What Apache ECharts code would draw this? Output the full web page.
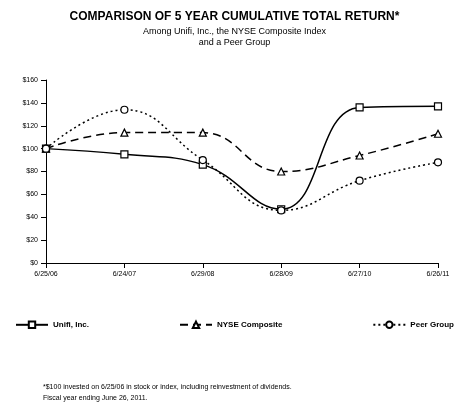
<!DOCTYPE html><html><head><meta charset="utf-8"><script src="https://cdn.jsdelivr.net/npm/echarts@6/dist/echarts.min.js"></script>
<style>body{margin:0;background:#fff}#c{width:469px;height:405px}</style></head><body><div id="c"></div><script>
const categories=['6/25/06','6/24/07','6/29/08','6/28/09','6/27/10','6/26/11'];
const unifi=[100,95,86,47,136,137];
const nyse=[100,114,114,80,94,113];
const peer=[100,134,90,46,72,88];
const yTicks=[0,20,40,60,80,100,120,140,160];
const ch=echarts.init(document.getElementById('c'));
const F='Liberation Sans, Arial, sans-serif';
function s(name,data,sym,type,w){return {name,type:'line',data,smooth:0.45,symbol:sym,symbolSize:7,itemStyle:{color:'#fff',borderColor:'#000',borderWidth:1.2},lineStyle:{color:'#000',width:w,type},emphasis:{disabled:true}};}
ch.setOption({animation:false,
title:[{text:'COMPARISON OF 5 YEAR CUMULATIVE TOTAL RETURN*',left:'center',top:6,textStyle:{fontFamily:F,fontSize:12,fontWeight:'bold',color:'#000'}},
{text:'Among Unifi, Inc., the NYSE Composite Index\nand a Peer Group',left:'center',top:21,textStyle:{fontFamily:F,fontSize:9,fontWeight:'normal',color:'#000',lineHeight:11}},
{text:'*$100 invested on 6/25/06 in stock or index, including reinvestment of dividends.\nFiscal year ending June 26, 2011.',left:38,top:377,textStyle:{fontFamily:F,fontSize:7,fontWeight:'normal',color:'#000',lineHeight:11}}],
legend:{bottom:71,left:10,right:15,itemGap:90,itemWidth:32,itemHeight:8,textStyle:{fontFamily:F,fontSize:8,fontWeight:'bold',color:'#000'},data:['Unifi, Inc.','NYSE Composite','Peer Group']},
grid:{left:46,right:31,top:80,bottom:142},
xAxis:{type:'category',boundaryGap:false,data:categories,axisLine:{lineStyle:{color:'#000'}},axisTick:{alignWithLabel:true,lineStyle:{color:'#000'}},axisLabel:{fontFamily:F,fontSize:7,color:'#000',margin:8}},
yAxis:{type:'value',min:0,max:160,interval:20,splitLine:{show:false},axisLine:{show:true,lineStyle:{color:'#000'}},axisTick:{show:true,lineStyle:{color:'#000'}},axisLabel:{fontFamily:F,fontSize:7,color:'#000',formatter:v=>yTicks.includes(v)?'$'+v:''}},
series:[s('Unifi, Inc.',unifi,'rect','solid',1.5),s('NYSE Composite',nyse,'triangle',[8,5],1.5),s('Peer Group',peer,'circle',[2,3],1.5)]});
</script></body></html>
